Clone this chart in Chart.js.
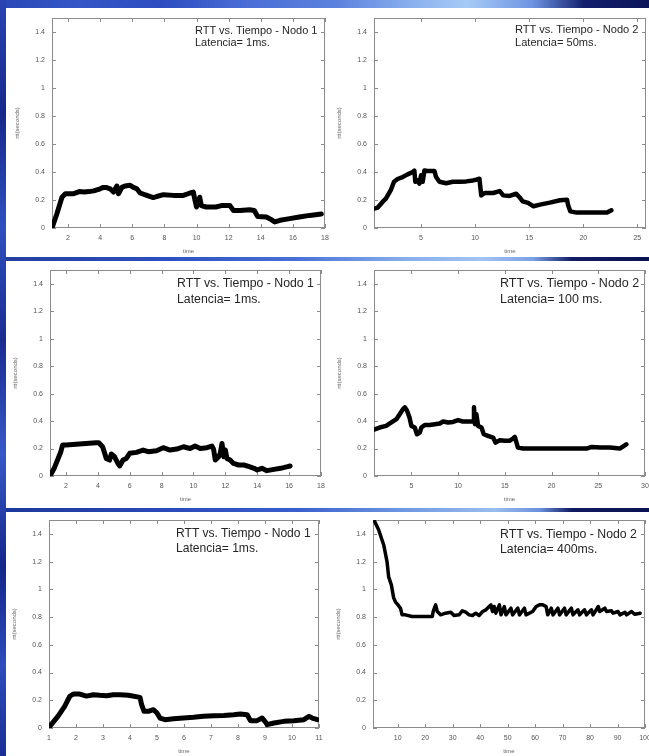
<!DOCTYPE html>
<html>
<head>
<meta charset="utf-8">
<script src="https://cdn.jsdelivr.net/npm/chart.js@4/dist/chart.umd.min.js"></script>
<style>
  html, body { margin:0; padding:0; }
  body { width:649px; height:756px; overflow:hidden; position:relative; background:#1d3aa6; font-family:"Liberation Sans", Arial, sans-serif; }
  .strip { position:absolute; }
  .white { position:absolute; background:#fff; }
  canvas { position:absolute; }
  .note { position:absolute; color:#262626; white-space:pre; font-family:"Liberation Sans", Arial, sans-serif; }
</style>
</head>
<body>
<div class="strip" style="left:0;top:0;width:649px;height:8px;background:linear-gradient(to right,#2a48b8 0%,#3456c6 12%,#2c4cc0 25%,#4a6ed6 38%,#5c82de 52%,#8cb2ee 64%,#a6caf6 72%,#6e94e2 82%,#14206e 90%,#0b1458 100%);"></div>
<div class="strip" style="left:0;top:0;width:6px;height:756px;background:linear-gradient(to bottom,#2a44b4 0%,#16288a 15%,#3050c0 30%,#1a2c90 45%,#3858c8 60%,#14268a 75%,#2e4cbc 88%,#1a2e96 100%);"></div>
<div class="strip" style="left:6px;top:257px;width:643px;height:4px;background:linear-gradient(to right,#22409f 0%,#2d4fc0 25%,#4a70d6 45%,#86aeec 62%,#a0c4f2 74%,#7aa0e6 82%,#111c64 88%,#0a1250 100%);"></div>
<div class="strip" style="left:6px;top:508px;width:643px;height:4px;background:linear-gradient(to right,#1c389c 0%,#2a4ab8 25%,#3a5ecc 45%,#7098e2 62%,#98beee 76%,#6a90de 83%,#101a60 88%,#0a1250 100%);"></div>
<div class="white" style="left:6px;top:8px;width:643px;height:249px;"></div>
<div class="white" style="left:6px;top:261px;width:643px;height:247px;"></div>
<div class="white" style="left:6px;top:512px;width:643px;height:244px;"></div>

<canvas id="c1"></canvas>
<canvas id="c2"></canvas>
<canvas id="c3"></canvas>
<canvas id="c4"></canvas>
<canvas id="c5"></canvas>
<canvas id="c6"></canvas>

<div class="note" style="left:195px;top:24px;font-size:11px;line-height:12px;">RTT vs. Tiempo - Nodo 1
Latencia= 1ms.</div>
<div class="note" style="left:515px;top:22.5px;font-size:11.1px;line-height:13px;">RTT vs. Tiempo - Nodo 2
Latencia= 50ms.</div>
<div class="note" style="left:177px;top:275px;font-size:12.3px;line-height:16px;">RTT vs. Tiempo - Nodo 1
Latencia= 1ms.</div>
<div class="note" style="left:500px;top:275px;font-size:12.5px;line-height:16px;">RTT vs. Tiempo - Nodo 2
Latencia= 100 ms.</div>
<div class="note" style="left:176px;top:525.5px;font-size:12.1px;line-height:15px;">RTT vs. Tiempo - Nodo 1
Latencia= 1ms.</div>
<div class="note" style="left:500px;top:526.5px;font-size:12.3px;line-height:15px;">RTT vs. Tiempo - Nodo 2
Latencia= 400ms.</div>

<script>
// ---- Data (time in s, rtt in s) ----
const p1x = [1.0,1.3,1.62,1.83,2.0,2.35,2.7,3.0,3.3,3.6,4.0,4.2,4.37,4.62,4.83,5.04,5.14,5.35,5.55,5.87,6.07,6.28,6.49,6.9,7.31,7.52,7.94,8.56,9.18,9.6,9.8,9.9,10.0,10.2,10.3,10.6,11.2,11.55,12.08,12.3,12.7,13.3,13.6,13.8,14.35,14.66,14.87,15.2,15.8,16.4,17.05,17.77];
const p1y = [0.0,0.1,0.22,0.245,0.245,0.245,0.26,0.257,0.26,0.265,0.28,0.29,0.29,0.28,0.257,0.30,0.245,0.29,0.30,0.305,0.29,0.28,0.25,0.233,0.217,0.225,0.238,0.233,0.233,0.25,0.257,0.2,0.15,0.22,0.16,0.15,0.15,0.16,0.16,0.125,0.125,0.13,0.125,0.083,0.079,0.06,0.043,0.055,0.067,0.079,0.09,0.1];

const p2x = [0.67,0.98,1.44,1.75,2.2,2.5,2.83,3.3,3.76,4.23,4.38,4.47,4.69,4.85,5.0,5.15,5.31,5.62,6.24,6.39,6.7,7.32,7.94,8.56,9.18,9.8,10.1,10.4,10.48,10.57,10.88,11.66,12.28,12.6,13.2,13.8,14.1,14.4,14.9,15.4,16.0,16.9,17.85,18.5,18.6,18.8,19.4,20.3,21.3,22.2,22.6];
const p2y = [0.138,0.145,0.186,0.21,0.27,0.33,0.35,0.364,0.383,0.4,0.41,0.33,0.34,0.317,0.376,0.33,0.41,0.407,0.407,0.364,0.33,0.32,0.33,0.33,0.333,0.34,0.345,0.352,0.293,0.233,0.25,0.25,0.264,0.233,0.229,0.245,0.22,0.19,0.179,0.155,0.167,0.181,0.198,0.202,0.162,0.119,0.11,0.11,0.11,0.11,0.126];

const p3x = [1.0,1.26,1.68,1.79,2.0,2.63,3.26,3.9,4.06,4.3,4.4,4.53,4.74,4.84,5.05,5.26,5.37,5.58,5.79,6.0,6.42,6.84,7.16,7.68,8.1,8.53,8.95,9.37,9.79,10.1,10.42,10.84,11.16,11.26,11.37,11.58,11.68,11.79,11.9,12.0,12.1,12.3,12.5,12.84,13.16,13.5,13.8,14.0,14.3,14.6,15.05,15.47,15.9,16.06];
const p3y = [0,0.056,0.177,0.225,0.225,0.232,0.237,0.242,0.242,0.213,0.177,0.128,0.116,0.16,0.14,0.092,0.073,0.116,0.128,0.165,0.172,0.189,0.177,0.184,0.206,0.189,0.196,0.213,0.2,0.218,0.2,0.206,0.218,0.196,0.116,0.14,0.165,0.237,0.14,0.189,0.128,0.116,0.092,0.08,0.08,0.068,0.056,0.044,0.056,0.039,0.048,0.056,0.068,0.073];

const p4x = [1.07,1.6,2.3,2.86,3.4,3.75,4.1,4.3,4.54,4.8,5.0,5.36,5.6,5.9,6.07,6.43,6.96,7.5,8.04,8.4,8.93,9.46,10.0,10.5,11.07,11.6,11.7,11.8,11.96,12.14,12.5,12.75,13.2,13.75,14.0,14.46,15.0,15.5,15.9,16.07,16.25,16.4,16.96,18.0,19.46,20.9,22.3,23.75,24.3,25.2,26.25,27.3,28.0];
const p4y = [0.34,0.353,0.365,0.39,0.414,0.45,0.487,0.5,0.475,0.426,0.365,0.353,0.304,0.316,0.353,0.372,0.372,0.377,0.382,0.397,0.39,0.394,0.407,0.397,0.397,0.397,0.5,0.377,0.45,0.365,0.353,0.304,0.292,0.28,0.243,0.26,0.256,0.256,0.275,0.285,0.243,0.207,0.2,0.2,0.2,0.2,0.2,0.2,0.212,0.207,0.207,0.2,0.231];

const p5x = [1.0,1.33,1.58,1.77,1.9,2.14,2.39,2.64,2.88,3.13,3.38,3.63,3.94,4.37,4.43,4.52,4.68,4.87,5.0,5.11,5.3,5.61,5.98,6.35,6.72,7.1,7.47,7.84,8.09,8.34,8.46,8.71,8.89,9.02,9.08,9.33,9.7,10.07,10.44,10.63,10.75,10.94];
const p5y = [0.005,0.084,0.156,0.229,0.245,0.245,0.23,0.24,0.236,0.233,0.24,0.24,0.236,0.221,0.168,0.12,0.12,0.132,0.108,0.072,0.06,0.067,0.072,0.077,0.084,0.089,0.091,0.096,0.101,0.096,0.053,0.053,0.072,0.043,0.024,0.036,0.048,0.053,0.06,0.084,0.072,0.06];

const p6x = [1.6,3.05,4.9,6.1,6.7,7.7,8.5,9.15,10.1,11.0,11.6,12.8,15.2,17.7,20.1,22.6,22.9,23.8,24.4,25.6,27.4,29.3,30.5,32.3,33.5,34.75,36,37.2,38.4,39.6,40.9,42.1,43.3,43.9,44.5,45.1,45.7,47,47.6,48.8,49.4,51.2,51.8,53.7,54.3,56.1,56.7,59.1,60.4,61.6,62.8,64,64.6,65.9,66.5,68.3,68.9,70.7,71.3,73.2,73.8,75.6,76.2,78,78.7,80.5,81.1,83,83.5,85.4,86,87.8,88.4,90.2,90.9,92.7,93.3,95.1,96.3,98.2];
const p6y = [1.49,1.43,1.32,1.2,1.09,1.03,0.94,0.91,0.888,0.864,0.816,0.816,0.804,0.804,0.804,0.804,0.84,0.888,0.84,0.816,0.828,0.835,0.811,0.816,0.845,0.835,0.816,0.811,0.828,0.811,0.84,0.852,0.876,0.888,0.84,0.876,0.828,0.888,0.816,0.876,0.816,0.864,0.816,0.864,0.816,0.864,0.816,0.84,0.876,0.888,0.888,0.876,0.816,0.864,0.816,0.864,0.816,0.864,0.816,0.864,0.816,0.852,0.816,0.852,0.816,0.852,0.816,0.876,0.84,0.864,0.84,0.845,0.828,0.84,0.816,0.835,0.816,0.84,0.82,0.828];

// axis settings per panel: [min, max, step]
const xRanges = [[1,18,2],[0.65,25.8,5],[1,18,2],[1,30,5],[1,11,1],[1,100,10]];
const yRange = [0, 1.5, 0.2];
const xTitle = 'time';
const yTitle = 'rtt(seconds)';

// ---- layout ----
const areas = [
  {left:52, top:18, right:325, bottom:228},
  {left:374, top:18, right:646, bottom:228},
  {left:50, top:270, right:321, bottom:476},
  {left:374, top:270, right:645, bottom:476},
  {left:49, top:520, right:319, bottom:728},
  {left:373, top:520, right:645, bottom:728}
];
const lineWidths = [5, 4.5, 5, 4.5, 5, 3.5];
const YW = 46, XH = 30, PT = 8, PR = 8;

const fmt = v => String(Number(Number(v).toFixed(2)));

const framePlugin = {
  id: 'gpframe',
  beforeDatasetsDraw(chart) {
    const {ctx, chartArea: a, scales: {x, y}} = chart;
    ctx.save();
    ctx.strokeStyle = '#8c8c8c';
    ctx.lineWidth = 1;
    ctx.strokeRect(a.left + 0.5, a.top + 0.5, a.right - a.left - 1, a.bottom - a.top - 1);
    ctx.beginPath();
    x.ticks.forEach(t => {
      const px = Math.round(x.getPixelForValue(t.value)) + 0.5;
      ctx.moveTo(px, a.bottom); ctx.lineTo(px, a.bottom - 4);
      ctx.moveTo(px, a.top); ctx.lineTo(px, a.top + 4);
    });
    y.ticks.forEach(t => {
      const py = Math.round(y.getPixelForValue(t.value)) + 0.5;
      ctx.moveTo(a.left, py); ctx.lineTo(a.left + 4, py);
      ctx.moveTo(a.right, py); ctx.lineTo(a.right - 4, py);
    });
    ctx.stroke();
    ctx.restore();
  }
};

const series = [[p1x,p1y],[p2x,p2y],[p3x,p3y],[p4x,p4y],[p5x,p5y],[p6x,p6y]];

series.forEach((s, i) => {
  const a = areas[i];
  const cv = document.getElementById('c' + (i + 1));
  const x0 = a.left - YW, y0 = a.top - PT;
  const w = a.right + PR - x0, h = a.bottom + XH - y0;
  cv.style.left = x0 + 'px'; cv.style.top = y0 + 'px';
  cv.width = w; cv.height = h;
  cv.style.width = w + 'px'; cv.style.height = h + 'px';
  const pts = s[0].map((xv, k) => ({x: xv, y: s[1][k]}));
  const [xmin, xmax, xstep] = xRanges[i];
  new Chart(cv, {
    type: 'scatter',
    data: { datasets: [{
      data: pts, showLine: true, borderColor: '#000', backgroundColor: '#000',
      borderWidth: lineWidths[i], pointRadius: 0, tension: 0, borderJoinStyle: 'round', borderCapStyle: 'round'
    }]},
    options: {
      responsive: false, animation: false, devicePixelRatio: 1,
      layout: { padding: {left: 0, top: PT, right: PR, bottom: 0} },
      plugins: { legend: {display: false}, tooltip: {enabled: false} },
      scales: {
        x: {
          type: 'linear', min: xmin, max: xmax,
          afterFit: sc => { sc.height = XH; sc.paddingLeft = 0; sc.paddingRight = 0; },
          grid: { display: false, drawTicks: false },
          border: { display: false },
          ticks: { stepSize: xstep, includeBounds: false, autoSkip: false, maxRotation: 0, padding: 6,
                   color: '#555', font: {family: 'Liberation Sans', size: 7}, callback: fmt },
          title: { display: true, text: xTitle, color: '#666', font: {family: 'Liberation Sans', size: 6}, padding: {top: 0, bottom: 3} }
        },
        y: {
          type: 'linear', min: yRange[0], max: yRange[1],
          afterFit: sc => { sc.width = YW; sc.paddingTop = 0; sc.paddingBottom = 0; },
          grid: { display: false, drawTicks: false },
          border: { display: false },
          ticks: { stepSize: yRange[2], includeBounds: false, padding: 7,
                   color: '#555', font: {family: 'Liberation Sans', size: 7}, callback: fmt },
          title: { display: true, text: yTitle, color: '#666', font: {family: 'Liberation Sans', size: 6}, padding: {top: 8, bottom: 0} }
        }
      }
    },
    plugins: [framePlugin]
  });
});
</script>
</body>
</html>
